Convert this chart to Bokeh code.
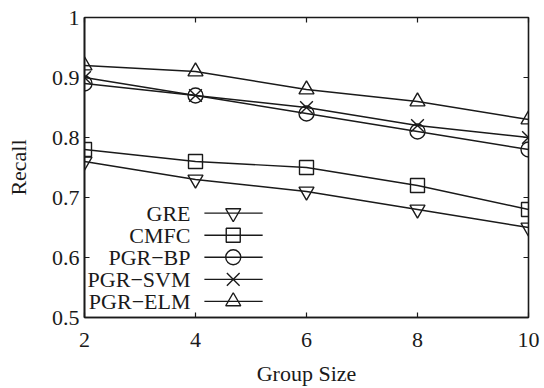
from bokeh.plotting import figure
from bokeh.models import (FixedTicker, LinearAxis, Range1d, CustomJSTickFormatter,
                          ColumnDataSource)
from bokeh.core.properties import value
from bokeh.embed import file_html
from bokeh.resources import INLINE

# ---- data ----
group_size = [2, 4, 6, 8, 10]
gre = [0.76, 0.73, 0.71, 0.68, 0.65]
cmfc = [0.78, 0.76, 0.75, 0.72, 0.68]
pgr_bp = [0.89, 0.87, 0.84, 0.81, 0.78]
pgr_svm = [0.90, 0.87, 0.85, 0.82, 0.80]
pgr_elm = [0.92, 0.91, 0.88, 0.86, 0.83]
series_names = ["GRE", "CMFC", "PGR\u2212BP", "PGR\u2212SVM", "PGR\u2212ELM"]
x_ticks = [2, 4, 6, 8, 10]
y_ticks = [0.5, 0.6, 0.7, 0.8, 0.9, 1.0]

FONT = "Liberation Serif"
FS = "22px"
INK = "#1a1a1a"

p = figure(width=544, height=388, output_backend="svg", toolbar_location=None,
           x_range=Range1d(2, 10), y_range=Range1d(0.5, 1.0),
           min_border_left=84, min_border_right=16, min_border_top=17,
           min_border_bottom=69, background_fill_color="white",
           border_fill_color="white")
p.grid.visible = False
p.outline_line_color = INK
p.outline_line_width = 1.6

fmt = CustomJSTickFormatter(code="return String(Math.round(tick*10)/10);")

for ax in (p.xaxis[0], p.yaxis[0]):
    ax.major_tick_in = 5
    ax.major_tick_out = 0
    ax.minor_tick_in = 0
    ax.minor_tick_out = 0
    ax.axis_line_color = INK
    ax.axis_line_width = 1.6
    ax.major_tick_line_color = INK
    ax.major_tick_line_width = 1.2
    ax.major_label_text_font = FONT
    ax.major_label_text_font_size = FS
    ax.major_label_text_color = INK
    ax.axis_label_text_font = FONT
    ax.axis_label_text_font_size = FS
    ax.axis_label_text_font_style = "normal"
    ax.axis_label_text_color = INK

p.xaxis[0].ticker = FixedTicker(ticks=x_ticks)
p.yaxis[0].ticker = FixedTicker(ticks=y_ticks)
p.yaxis[0].formatter = fmt
p.xaxis[0].axis_label = "Group Size"
p.yaxis[0].axis_label = "Recall"
p.xaxis[0].major_label_standoff = 15
p.yaxis[0].major_label_standoff = 5
p.xaxis[0].axis_label_standoff = 11
p.yaxis[0].axis_label_standoff = 18

# mirrored ticks on top and right (no labels)
for loc, tk in (("above", x_ticks), ("right", y_ticks)):
    ax = LinearAxis(ticker=FixedTicker(ticks=tk))
    ax.major_tick_in = 5
    ax.major_tick_out = 0
    ax.minor_tick_in = 0
    ax.minor_tick_out = 0
    ax.axis_line_color = None
    ax.major_tick_line_color = INK
    ax.major_tick_line_width = 1.2
    ax.major_label_text_font_size = "0px"
    ax.major_label_text_color = None
    ax.major_label_standoff = 0
    p.add_layout(ax, loc)

series = [gre, cmfc, pgr_bp, pgr_svm, pgr_elm]
markers = ["inverted_triangle", "square", "circle", "x", "triangle"]
sizes = [15, 14, 15, 18, 15]

for vals, mk, sz in zip(series, markers, sizes):
    src = ColumnDataSource(dict(x=group_size, y=vals))
    p.line("x", "y", source=src, line_color=INK, line_width=1.4)
    p.scatter("x", "y", source=src, marker=mk, size=sz, fill_color=None,
              line_color=INK, line_width=1.4)

# ---- legend (gnuplot style: text left, sample right) ----
leg_text_x = 3.91
leg_x0, leg_x1, leg_xm = 4.16, 5.21, 4.68
leg_y0, leg_dy = 0.674, 0.0368
leg_ys = [leg_y0 - i * leg_dy for i in range(len(series_names))]
p.text(x=[leg_text_x] * len(series_names), y=leg_ys, text=series_names,
       text_align="right", text_baseline="middle", text_font=value(FONT),
       text_font_size=FS, text_color=INK)
for yy, mk, sz in zip(leg_ys, markers, sizes):
    p.line([leg_x0, leg_x1], [yy, yy], line_color=INK, line_width=1.4)
    p.scatter([leg_xm], [yy], marker=mk, size=sz, fill_color=None,
              line_color=INK, line_width=1.4)

open("out.html", "w").write(file_html(p, INLINE))
